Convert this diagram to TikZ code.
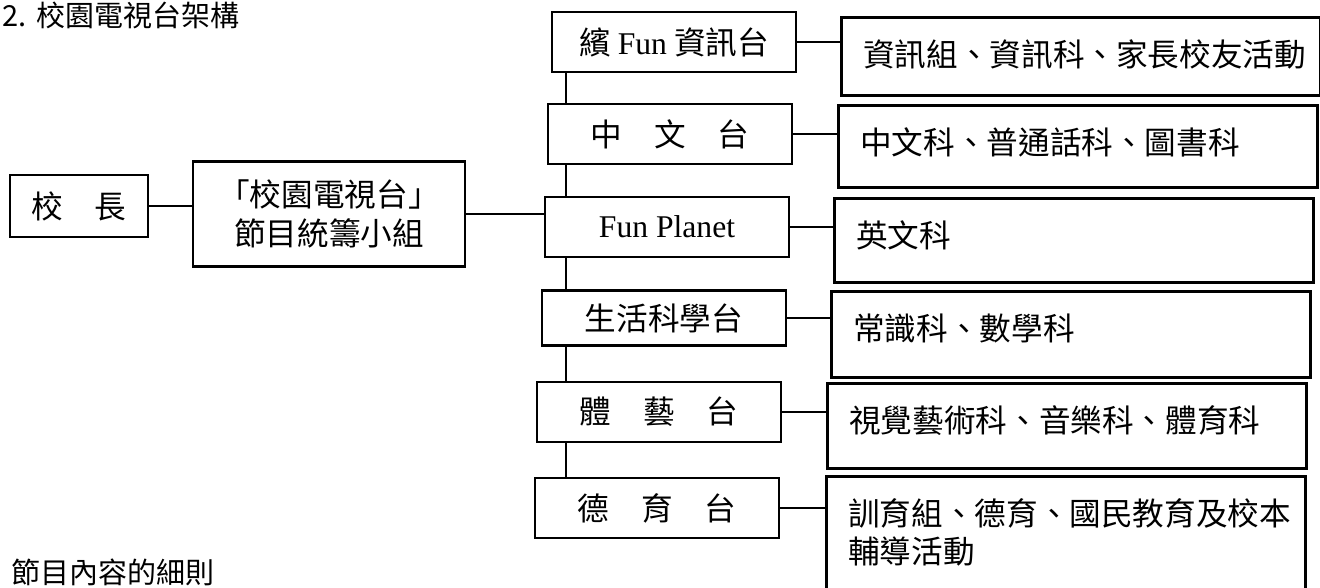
\documentclass[tikz,border=0pt]{standalone}
\usepackage{fontspec}
\setmainfont{Noto Sans CJK TC}
\newfontfamily\latinserif{Liberation Serif}
\usepackage{tikz}
\usetikzlibrary{positioning}

\begin{document}
\begin{tikzpicture}[x=0.02cm, y=-0.02cm, line width=1.5pt]
    \tikzstyle{unit} = [rectangle, draw, minimum width=4.88cm, minimum height=1.2cm, inner sep=0pt, font=\fontsize{18}{22}\selectfont]
    \tikzstyle{duty} = [rectangle, draw, anchor=north west, text width=8.7cm, inner xsep=0.44cm, inner ysep=0pt, text height=0.98cm, align=left, font=\fontsize{18}{22}\selectfont]
    \tikzstyle{caption} = [anchor=base west, inner sep=0pt, font=\fontsize{16.5}{20}\selectfont]

    \useasboundingbox (0,0) rectangle (1320,588);
    \clip (0,0) rectangle (1320,588);

    \node [caption] (title) at (1,27) {2.\hspace{0.2cm}校園電視台架構};
    \node [caption] (details) at (10,583) {節目內容的細則};

    % left side
    \node [unit, minimum width=2.76cm, minimum height=1.24cm] (principal) at (79,206) {校　長};
    \node [unit, minimum width=5.44cm, minimum height=2.1cm, align=center] (team) at (329,214) {「校園電視台」\\節目統籌小組};

    % channels
    \node [unit] (info) at (674,42) {繽 {\latinserif Fun} 資訊台};
    \node [unit] (chinese) at (670,134) {中　文　台};
    \node [unit] (planet) at (667,227) {\latinserif Fun Planet};
    \node [unit, minimum height=1.1cm] (science) at (664,318) {生活科學台};
    \node [unit] (arts) at (659,412) {體　藝　台};
    \node [unit] (moral) at (657,508) {德　育　台};

    % subjects
    \node [duty, text depth=0.58cm] (infoduty) at (840,16) {資訊組、資訊科、家長校友活動};
    \node [duty, text depth=0.66cm] (chineseduty) at (837,104) {中文科、普通話科、圖書科};
    \node [duty, text depth=0.70cm] (planetduty) at (833,197) {英文科};
    \node [duty, text depth=0.74cm] (scienceduty) at (830,290) {常識科、數學科};
    \node [duty, text depth=0.72cm] (artsduty) at (826,382) {視覺藝術科、音樂科、體育科};
    \node [duty, text depth=1.62cm] (moralduty) at (825,475) {訓育組、德育、國民教育及校本\\輔導活動};

    \draw (principal.east) -- (principal.east -| team.west);
    \draw (team.east) -- (team.east -| planet.west);

    \coordinate (trunk) at (566,0);
    \draw (info.south -| trunk) -- (chinese.north -| trunk);
    \draw (chinese.south -| trunk) -- (planet.north -| trunk);
    \draw (planet.south -| trunk) -- (science.north -| trunk);
    \draw (science.south -| trunk) -- (arts.north -| trunk);
    \draw (arts.south -| trunk) -- (moral.north -| trunk);

    \draw (info.east) -- (info.east -| infoduty.west);
    \draw (chinese.east) -- (chinese.east -| chineseduty.west);
    \draw (planet.east) -- (planet.east -| planetduty.west);
    \draw (science.east) -- (science.east -| scienceduty.west);
    \draw (arts.east) -- (arts.east -| artsduty.west);
    \draw (moral.east) -- (moral.east -| moralduty.west);
\end{tikzpicture}
\end{document}
